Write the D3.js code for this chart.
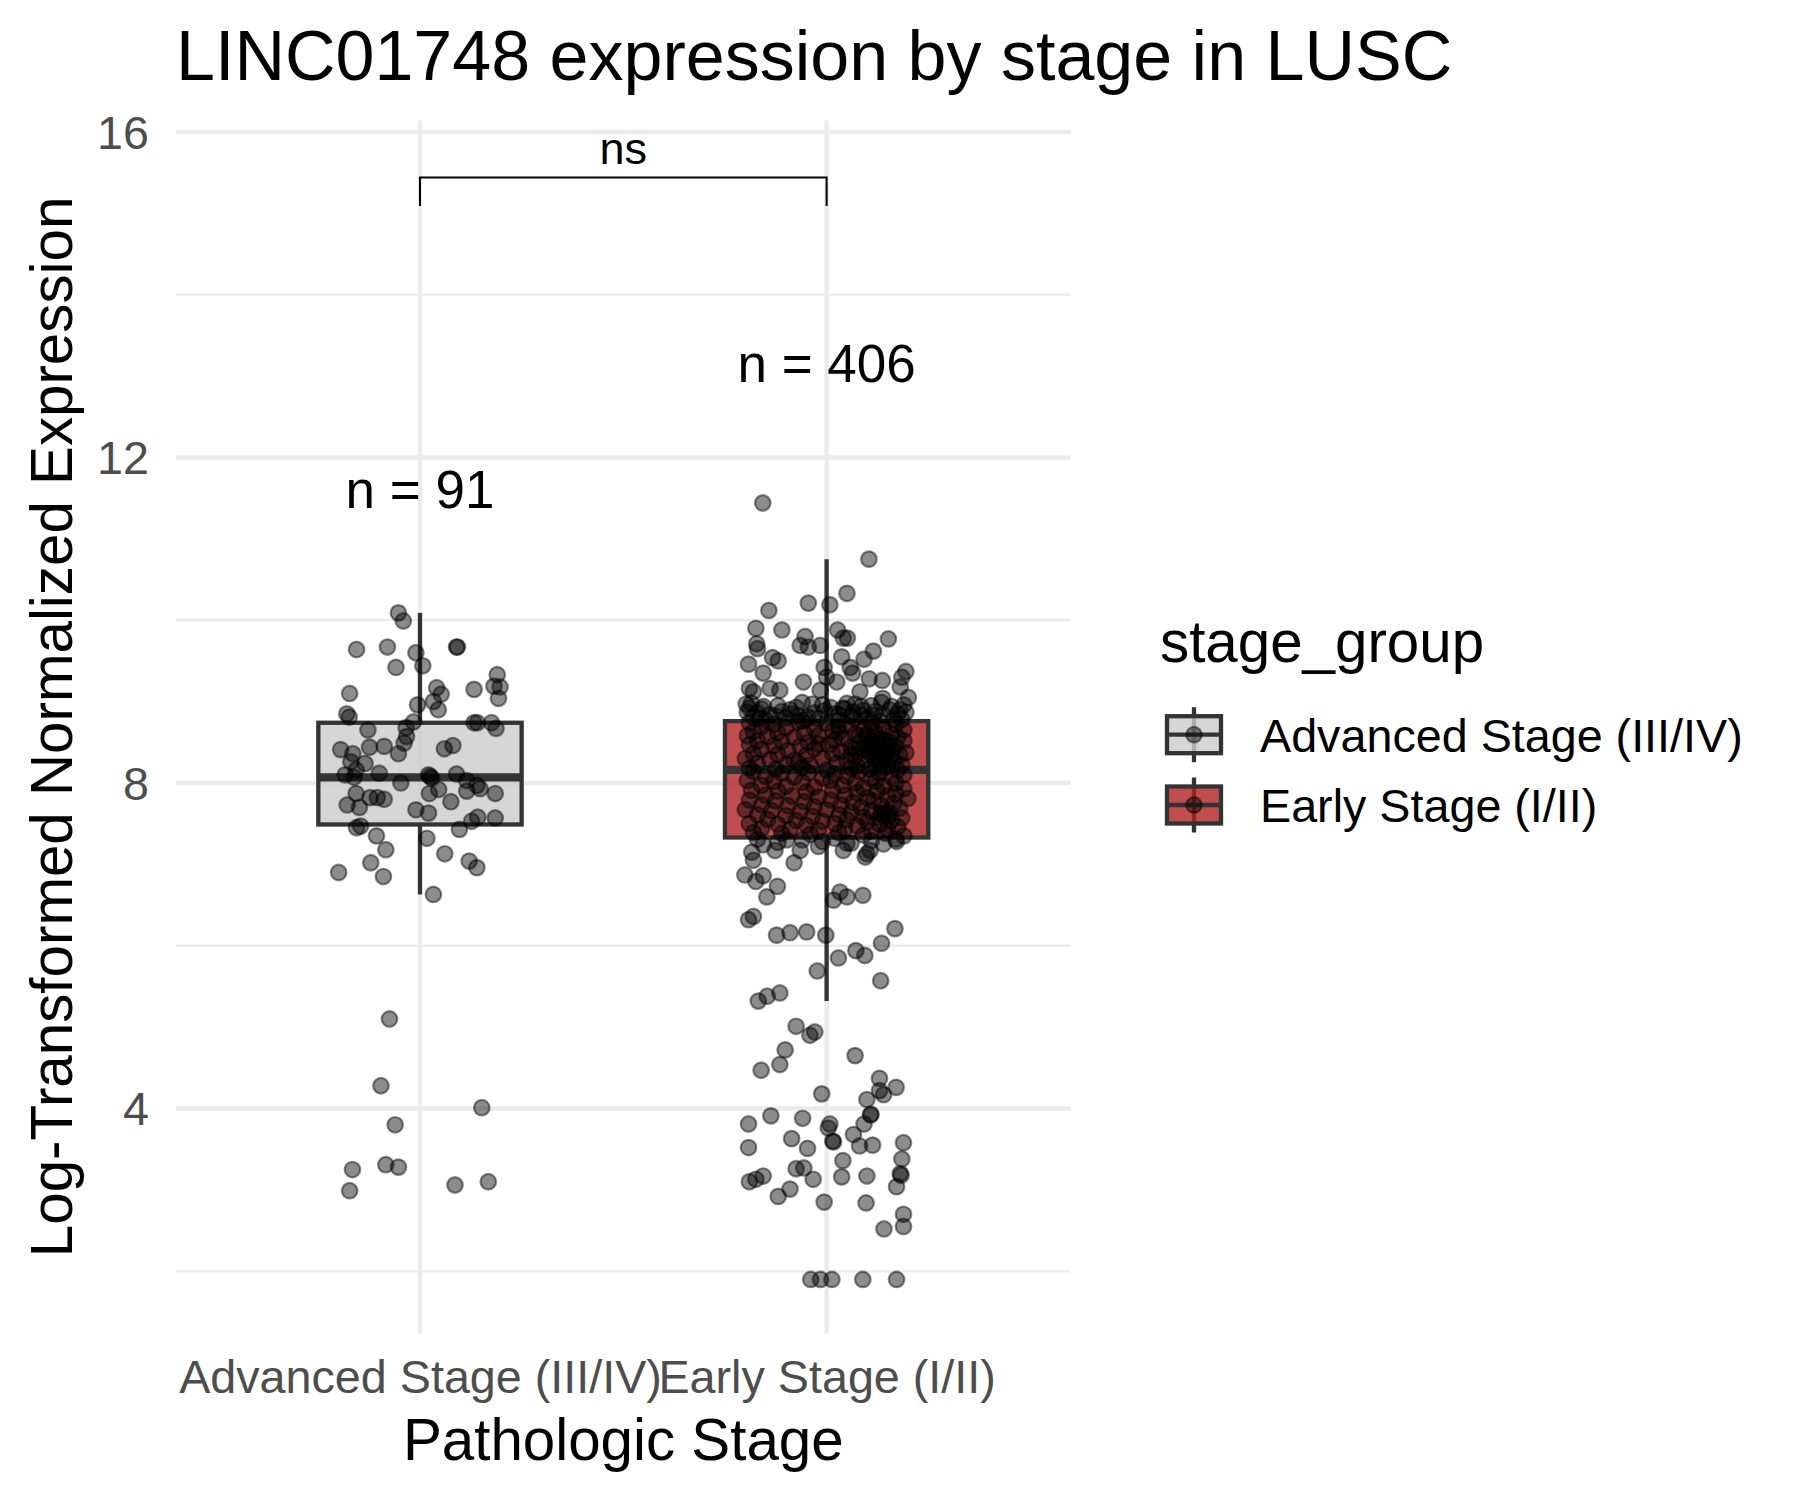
<!DOCTYPE html>
<html>
<head>
<meta charset="utf-8">
<script src="https://cdn.jsdelivr.net/npm/d3@7"></script>
<style>
  html, body { margin: 0; padding: 0; background: #ffffff; }
  svg { display: block; font-family: "Liberation Sans", Arial, Helvetica, sans-serif; }
</style>
</head>
<body>
<svg id="chart" width="1800" height="1500"></svg>
<script>
// ---------------- DATA ----------------
const categories = ["Advanced Stage (III/IV)", "Early Stage (I/II)"];
const legendLabels = ["Advanced Stage (III/IV)", "Early Stage (I/II)"];
const sampleSizes = [91, 406];
const countLabelY = [11.61, 13.16];

// box statistics
const boxQ1 = [7.49, 7.33];
const boxMedian = [8.07, 8.16];
const boxQ3 = [8.74, 8.76];
const whiskerLow = [6.63, 5.32];
const whiskerHigh = [10.09, 10.75];

const yMajorTicks = [4, 8, 12, 16];
const yMinorTicks = [2, 6, 10, 14];

const bracketLabel = "ns";
const bracketY = 15.44;
const bracketTipY = 15.09;

// points: [value, horizontal jitter in category units]
const advancedPoints = [
  [10.09,-0.053],[9.99,-0.041],[9.64,-0.156],[9.67,-0.080],[9.60,-0.010],[9.67,0.090],[9.67,0.092],
  [9.42,-0.059],[9.44,0.007],[9.33,0.190],[9.10,-0.173],[9.17,0.041],[9.09,0.052],[9.15,0.133],
  [9.19,0.182],[9.18,0.197],[9.04,0.193],[8.96,-0.006],[9.00,0.033],[8.90,0.045],[8.85,-0.180],
  [8.81,-0.174],[8.75,-0.016],[8.68,-0.034],[8.74,0.133],[8.74,0.141],[8.74,0.176],[8.67,0.187],
  [8.65,-0.128],[8.57,-0.033],[8.49,-0.039],[8.41,-0.195],[8.36,-0.165],[8.44,-0.124],[8.45,-0.088],
  [8.36,-0.053],[8.42,0.060],[8.46,0.081],[8.26,-0.170],[8.24,-0.135],[8.16,-0.157],[8.10,-0.184],
  [8.07,-0.162],[8.12,-0.100],[8.00,-0.047],[8.10,0.021],[8.06,0.029],[8.11,0.090],[8.03,0.115],
  [7.97,0.140],[7.93,0.148],[7.92,0.046],[7.87,0.023],[7.90,0.115],[7.87,0.185],[7.87,-0.157],
  [7.73,-0.179],[7.70,-0.149],[7.82,-0.123],[7.82,-0.105],[7.80,-0.088],[7.67,-0.010],[7.63,0.021],
  [7.77,0.076],[7.45,-0.156],[7.47,-0.146],[7.35,-0.107],[7.43,0.097],[7.53,0.127],[7.58,0.142],
  [7.57,0.185],[7.32,0.017],[7.18,-0.084],[7.13,0.061],[7.02,-0.121],[6.90,-0.200],[6.85,-0.090],
  [7.04,0.121],[6.96,0.140],[6.63,0.033],[8.08,0.025],
  [5.10,-0.075],[4.28,-0.096],[4.01,0.152],[3.80,-0.061],[3.31,-0.084],[3.28,-0.053],[3.25,-0.166],
  [2.99,-0.173],[3.06,0.086],[3.10,0.168]
];

const earlyPoints = [
  // upper tail
  [11.44,-0.157],[10.75,0.104],[10.33,0.050],[10.21,-0.045],[10.19,0.008],[10.12,-0.142],[9.90,-0.174],
  [9.88,-0.110],[9.88,0.027],[9.80,-0.053],[9.78,0.041],[9.78,0.051],[9.77,0.152],[9.71,-0.172],
  [9.65,-0.170],[9.69,-0.065],[9.67,-0.045],[9.69,-0.016],[9.62,0.115],[9.55,0.037],[9.54,-0.133],
  [9.50,-0.119],[9.52,0.092],[9.46,-0.192],[9.42,-0.006],[9.42,0.058],[9.35,0.064],[9.37,0.195],
  [9.30,0.185],[9.35,-0.156],[9.30,0.000],[9.28,0.105],[9.26,0.137],[9.24,-0.057],[9.24,0.025],
  [9.16,-0.190],[9.12,-0.180],[9.16,-0.139],[9.14,-0.115],[9.14,-0.016],[9.12,0.082],[9.18,0.181],
  [9.05,0.201],[9.04,0.138],[8.97,-0.198],
  // top of box
  [8.98,-0.185],[8.95,-0.12],[8.99,-0.06],[8.93,0.01],[8.97,0.07],[8.94,0.16],[8.91,-0.16],[8.90,-0.09],
  [8.92,0.04],[8.88,0.12],[8.96,0.19],[8.87,-0.195],[8.86,-0.03],[8.89,0.09],[8.85,0.175],[8.84,-0.14],
  [8.83,-0.07],[8.85,0.02],[8.82,0.06],[8.84,0.14],[8.81,-0.18],[8.80,-0.1],[8.79,-0.02],[8.80,0.1],
  [8.78,0.165],[8.77,-0.15],[8.78,-0.05],[8.77,0.03],[8.76,0.13],[8.97,-0.035],[8.94,-0.155],[8.95,0.11],
  [8.91,0.045],[8.88,-0.11],[8.87,0.195],[8.83,0.085],[8.81,-0.045],[8.93,-0.075],[8.9,0.155],[8.86,-0.17],
  [8.99,0.135],[8.96,-0.01],[8.92,-0.19],[8.89,-0.005],[8.84,0.03],[8.82,-0.125],[8.79,0.07],[8.78,0.185],
  [8.87,0.065],[8.94,0.085],[8.8,-0.165],[8.85,-0.085],[8.9,0.18],[8.98,0.05],[8.76,-0.06],[8.83,0.115],
  // median to Q3
  [8.74,-0.19],[8.72,-0.13],[8.75,-0.07],[8.73,0.0],[8.71,0.05],[8.74,0.11],[8.72,0.17],
  [8.69,-0.16],[8.68,-0.1],[8.67,-0.03],[8.69,0.03],[8.66,0.09],[8.68,0.14],[8.65,0.19],
  [8.63,-0.18],[8.62,-0.12],[8.61,-0.055],[8.64,0.015],[8.6,0.07],[8.62,0.12],[8.6,0.16],
  [8.58,-0.195],[8.57,-0.145],[8.56,-0.08],[8.58,-0.02],[8.55,0.04],[8.57,0.1],[8.54,0.135],[8.56,0.175],
  [8.52,-0.17],[8.51,-0.11],[8.5,-0.045],[8.53,0.02],[8.49,0.08],[8.51,0.115],[8.5,0.155],[8.52,0.19],
  [8.47,-0.19],[8.46,-0.13],[8.45,-0.065],[8.47,0.005],[8.44,0.06],[8.46,0.1],[8.43,0.14],[8.45,0.17],
  [8.41,-0.16],[8.4,-0.095],[8.42,-0.03],[8.39,0.035],[8.41,0.09],[8.38,0.125],[8.4,0.16],[8.37,0.195],
  [8.36,-0.18],[8.35,-0.12],[8.34,-0.05],[8.36,0.015],[8.33,0.07],[8.35,0.11],[8.32,0.145],[8.34,0.18],
  [8.3,-0.2],[8.29,-0.14],[8.28,-0.08],[8.3,-0.01],[8.27,0.05],[8.29,0.095],[8.26,0.13],[8.28,0.165],
  [8.24,-0.17],[8.23,-0.1],[8.22,-0.04],[8.24,0.025],[8.21,0.075],[8.23,0.12],[8.2,0.15],[8.22,0.185],
  [8.18,-0.19],[8.17,-0.125],[8.19,-0.06],[8.16,0.0],[8.18,0.06],[8.17,0.105],[8.19,0.14],[8.16,0.175],
  [8.55,0.125],[8.48,0.13],[8.42,0.145],[8.37,0.135],[8.31,0.12],[8.45,0.11],[8.52,0.145],[8.39,0.105],
  [8.6,0.1],[8.33,0.16],[8.27,0.14],[8.44,0.15],[8.58,0.08],[8.48,-0.02],[8.35,0.06],[8.25,-0.07],
  [8.62,0.03],[8.42,0.07],
  // Q1 to median
  [8.14,-0.18],[8.12,-0.11],[8.13,-0.045],[8.11,0.02],[8.14,0.08],[8.12,0.13],[8.1,0.19],
  [8.08,-0.15],[8.07,-0.08],[8.06,-0.01],[8.08,0.05],[8.05,0.11],[8.07,0.16],
  [8.03,-0.195],[8.02,-0.13],[8.01,-0.06],[8.03,0.01],[8.0,0.07],[8.02,0.12],[8.0,0.17],
  [7.97,-0.16],[7.96,-0.1],[7.95,-0.03],[7.97,0.04],[7.94,0.09],[7.96,0.14],[7.93,0.19],
  [7.91,-0.185],[7.9,-0.12],[7.89,-0.05],[7.91,0.015],[7.88,0.075],[7.9,0.125],[7.87,0.17],
  [7.85,-0.15],[7.84,-0.085],[7.83,-0.02],[7.85,0.045],[7.82,0.1],[7.84,0.15],[7.81,0.2],
  [7.79,-0.19],[7.78,-0.125],[7.77,-0.055],[7.79,0.01],[7.76,0.065],[7.78,0.115],[7.75,0.165],
  [7.73,-0.16],[7.72,-0.095],[7.71,-0.03],[7.73,0.035],[7.7,0.085],[7.72,0.135],[7.69,0.18],
  [7.67,-0.2],[7.66,-0.135],[7.65,-0.065],[7.67,0.0],[7.64,0.06],[7.66,0.11],[7.63,0.155],
  [7.61,-0.17],[7.6,-0.1],[7.59,-0.035],[7.61,0.03],[7.58,0.09],[7.6,0.14],[7.57,0.185],
  [7.55,-0.145],[7.54,-0.075],[7.53,-0.01],[7.55,0.05],[7.52,0.1],[7.54,0.16],
  [7.5,-0.19],[7.49,-0.12],[7.48,-0.05],[7.5,0.02],[7.47,0.075],[7.49,0.13],[7.46,0.175],
  [7.44,-0.16],[7.43,-0.09],[7.42,-0.02],[7.44,0.045],[7.41,0.11],[7.43,0.15],
  [7.39,-0.18],[7.38,-0.11],[7.37,-0.04],[7.39,0.03],[7.36,0.09],[7.38,0.145],[7.35,0.19],
  [7.62,0.135],[7.64,0.145],[7.6,0.15],[7.58,0.13],
  // just below Q1
  [7.31,-0.17],[7.3,-0.06],[7.32,0.02],[7.29,0.11],[7.31,0.17],[7.27,-0.12],[7.26,0.06],[7.28,-0.01],[7.25,0.14],
  [7.15,-0.184],[7.24,-0.156],[7.17,-0.127],[7.02,-0.080],[7.17,-0.065],[7.05,-0.180],[7.17,0.041],
  [7.26,0.050],[7.13,0.099],[7.17,0.107],[7.09,0.095],[7.28,0.172],[6.87,-0.201],[6.79,-0.174],
  [6.86,-0.156],[6.73,-0.121],[6.60,-0.147],[7.22,-0.020],[7.30,-0.098],
  // lower tail
  [6.56,0.017],[6.60,0.050],[6.62,0.089],[6.66,0.033],[6.32,-0.192],[6.36,-0.180],[6.13,-0.123],
  [6.16,-0.090],[6.17,-0.049],[6.13,-0.002],[5.85,0.029],[5.94,0.072],[5.88,0.094],[6.03,0.135],
  [6.21,0.168],[5.69,-0.023],[5.57,0.133],[5.32,-0.168],[5.38,-0.146],[5.42,-0.115],[5.01,-0.075],
  [4.90,-0.041],[4.94,-0.029],[4.72,-0.102],[4.54,-0.115],[4.47,-0.161],[4.65,0.070],[4.37,0.130],
  [4.18,-0.012],[4.11,0.099],[4.22,0.130],[4.17,0.140],[4.26,0.171],[3.93,0.109],[3.92,0.108],
  [3.81,-0.192],[3.91,-0.137],[3.88,-0.059],[3.81,0.008],[3.76,0.004],[3.60,0.015],[3.59,0.017],
  [3.68,0.066],[3.81,0.092],[3.54,0.081],[3.55,0.113],[3.58,0.189],[3.52,-0.192],[3.63,-0.086],
  [3.51,-0.047],[3.36,0.040],[3.38,0.185],[3.26,-0.075],[3.27,-0.056],[3.20,0.181],[3.18,0.183],
  [3.04,0.172],[3.10,-0.190],[3.13,-0.174],[3.17,-0.156],[3.13,-0.033],[3.16,0.037],[3.17,0.099],
  [3.01,-0.090],[2.92,-0.119],[2.85,-0.006],[2.84,0.097],[2.70,0.189],[2.55,0.189],[2.52,0.141],
  [1.90,-0.039],[1.90,-0.015],[1.90,0.013],[1.90,0.089],[1.90,0.172]
];

const pointsByGroup = [advancedPoints, earlyPoints];

// ---------------- LAYOUT / STYLE ----------------
const panel = { left: 176, right: 1070.6, top: 120.5, bottom: 1333.3 };
const fillColors = ["#CCCCCC", "#B22222"];
const fillOpacity = 0.8;
const boxStroke = "#333333";
const gridColor = "#EBEBEB";
const textGray = "#4D4D4D";
const FONT = '"Liberation Sans", Arial, Helvetica, sans-serif';

const svg = d3.select("#chart");
svg.append("rect").attr("width", 1800).attr("height", 1500).attr("fill", "#ffffff");

const x = d3.scalePoint().domain(categories).range([panel.left, panel.right]).padding(0.6);
const step = x.step();
const y = d3.scaleLinear().domain([1.238, 16.14]).range([panel.bottom, panel.top]);

// ---------- grid ----------
const grid = svg.append("g");
grid.selectAll("line.minor").data(yMinorTicks).join("line")
  .attr("x1", panel.left).attr("x2", panel.right)
  .attr("y1", d => y(d)).attr("y2", d => y(d))
  .attr("stroke", gridColor).attr("stroke-width", 2.3);
grid.selectAll("line.major").data(yMajorTicks).join("line")
  .attr("x1", panel.left).attr("x2", panel.right)
  .attr("y1", d => y(d)).attr("y2", d => y(d))
  .attr("stroke", gridColor).attr("stroke-width", 4.4);
grid.selectAll("line.vmajor").data(categories).join("line")
  .attr("x1", d => x(d)).attr("x2", d => x(d))
  .attr("y1", panel.top).attr("y2", panel.bottom)
  .attr("stroke", gridColor).attr("stroke-width", 4.4);

// ---------- axes (text only, theme_minimal) ----------
const yAxis = d3.axisLeft(y).tickValues(yMajorTicks).tickSize(0).tickPadding(0).tickFormat(d3.format("d"));
const yAxisG = svg.append("g").attr("transform", `translate(${panel.left - 27},0)`).call(yAxis);
yAxisG.select(".domain").remove();
yAxisG.selectAll("text").attr("font-family", FONT).attr("font-size", 46.7).attr("fill", textGray)
  .attr("dy", "0.35em").attr("x", 0);

const xAxis = d3.axisBottom(x).tickSize(0).tickPadding(0);
const xAxisG = svg.append("g").attr("transform", `translate(0,${panel.bottom})`).call(xAxis);
xAxisG.select(".domain").remove();
xAxisG.selectAll("text").attr("font-family", FONT).attr("font-size", 46.7).attr("fill", textGray)
  .attr("dy", 0).attr("y", 60);

// ---------- boxplots ----------
const boxW = step * 0.5;
const boxes = svg.append("g");
categories.forEach((c, i) => {
  const cx = x(c);
  const g = boxes.append("g");
  g.append("line").attr("x1", cx).attr("x2", cx)
    .attr("y1", y(boxQ3[i])).attr("y2", y(whiskerHigh[i]))
    .attr("stroke", boxStroke).attr("stroke-width", 4.3);
  g.append("line").attr("x1", cx).attr("x2", cx)
    .attr("y1", y(boxQ1[i])).attr("y2", y(whiskerLow[i]))
    .attr("stroke", boxStroke).attr("stroke-width", 4.3);
  g.append("rect").attr("x", cx - boxW / 2).attr("width", boxW)
    .attr("y", y(boxQ3[i])).attr("height", y(boxQ1[i]) - y(boxQ3[i]))
    .attr("fill", fillColors[i]).attr("fill-opacity", fillOpacity)
    .attr("stroke", boxStroke).attr("stroke-width", 4.3);
  g.append("line").attr("x1", cx - boxW / 2).attr("x2", cx + boxW / 2)
    .attr("y1", y(boxMedian[i])).attr("y2", y(boxMedian[i]))
    .attr("stroke", boxStroke).attr("stroke-width", 8.2);
});

// ---------- jittered points ----------
const pts = svg.append("g");
categories.forEach((c, i) => {
  pts.selectAll(null).data(pointsByGroup[i]).join("circle")
    .attr("cx", d => x(c) + d[1] * step)
    .attr("cy", d => y(d[0]))
    .attr("r", 7.8)
    .attr("fill", "#000000").attr("fill-opacity", 0.45)
    .attr("stroke", "#000000").attr("stroke-opacity", 0.45).attr("stroke-width", 2.2);
});

// ---------- n labels ----------
svg.append("g").selectAll("text").data(categories).join("text")
  .attr("x", d => x(d))
  .attr("y", (d, i) => y(countLabelY[i]))
  .attr("dy", "0.36em")
  .attr("text-anchor", "middle")
  .attr("font-family", FONT).attr("font-size", 53).attr("fill", "#000000")
  .text((d, i) => `n = ${sampleSizes[i]}`);

// ---------- significance bracket ----------
const br = svg.append("g");
const bx1 = x(categories[0]), bx2 = x(categories[1]);
br.append("path")
  .attr("d", `M${bx1},${y(bracketTipY)}V${y(bracketY)}H${bx2}V${y(bracketTipY)}`)
  .attr("fill", "none").attr("stroke", "#000000").attr("stroke-width", 2);
br.append("text").attr("x", (bx1 + bx2) / 2).attr("y", y(bracketY) - 13)
  .attr("text-anchor", "middle").attr("font-family", FONT).attr("font-size", 45)
  .attr("fill", "#000000").text(bracketLabel);

// ---------- titles ----------
svg.append("text").attr("x", panel.left).attr("y", 80)
  .attr("font-family", FONT).attr("font-size", 70).attr("fill", "#000000")
  .text("LINC01748 expression by stage in LUSC");
svg.append("text").attr("x", (panel.left + panel.right) / 2).attr("y", 1460)
  .attr("text-anchor", "middle").attr("font-family", FONT).attr("font-size", 58.3).attr("fill", "#000000")
  .text("Pathologic Stage");
svg.append("text")
  .attr("transform", `translate(71.7,${(panel.top + panel.bottom) / 2}) rotate(-90)`)
  .attr("text-anchor", "middle").attr("font-family", FONT).attr("font-size", 58.3).attr("fill", "#000000")
  .text("Log-Transformed Normalized Expression");

// ---------- legend ----------
const legend = svg.append("g");
legend.append("text").attr("x", 1160).attr("y", 662)
  .attr("font-family", FONT).attr("font-size", 58.3).attr("fill", "#000000").text("stage_group");
const rowY = [734.7, 805];
const keyCx = 1194;
legendLabels.forEach((lab, i) => {
  const cy = rowY[i];
  const k = legend.append("g");
  k.append("line").attr("x1", keyCx).attr("x2", keyCx).attr("y1", cy - 27.5).attr("y2", cy + 27.5)
    .attr("stroke", boxStroke).attr("stroke-width", 4.3);
  k.append("rect").attr("x", keyCx - 27).attr("width", 54).attr("y", cy - 18.5).attr("height", 37)
    .attr("fill", fillColors[i]).attr("fill-opacity", fillOpacity)
    .attr("stroke", boxStroke).attr("stroke-width", 4.3);
  k.append("line").attr("x1", keyCx - 27).attr("x2", keyCx + 27).attr("y1", cy).attr("y2", cy)
    .attr("stroke", boxStroke).attr("stroke-width", 4.3);
  k.append("circle").attr("cx", keyCx).attr("cy", cy).attr("r", 7.8)
    .attr("fill", "#000000").attr("fill-opacity", 0.45)
    .attr("stroke", "#000000").attr("stroke-opacity", 0.45).attr("stroke-width", 2.2);
  legend.append("text").attr("x", 1260).attr("y", cy).attr("dy", "0.36em")
    .attr("font-family", FONT).attr("font-size", 46.7).attr("fill", "#000000").text(lab);
});
</script>
</body>
</html>
